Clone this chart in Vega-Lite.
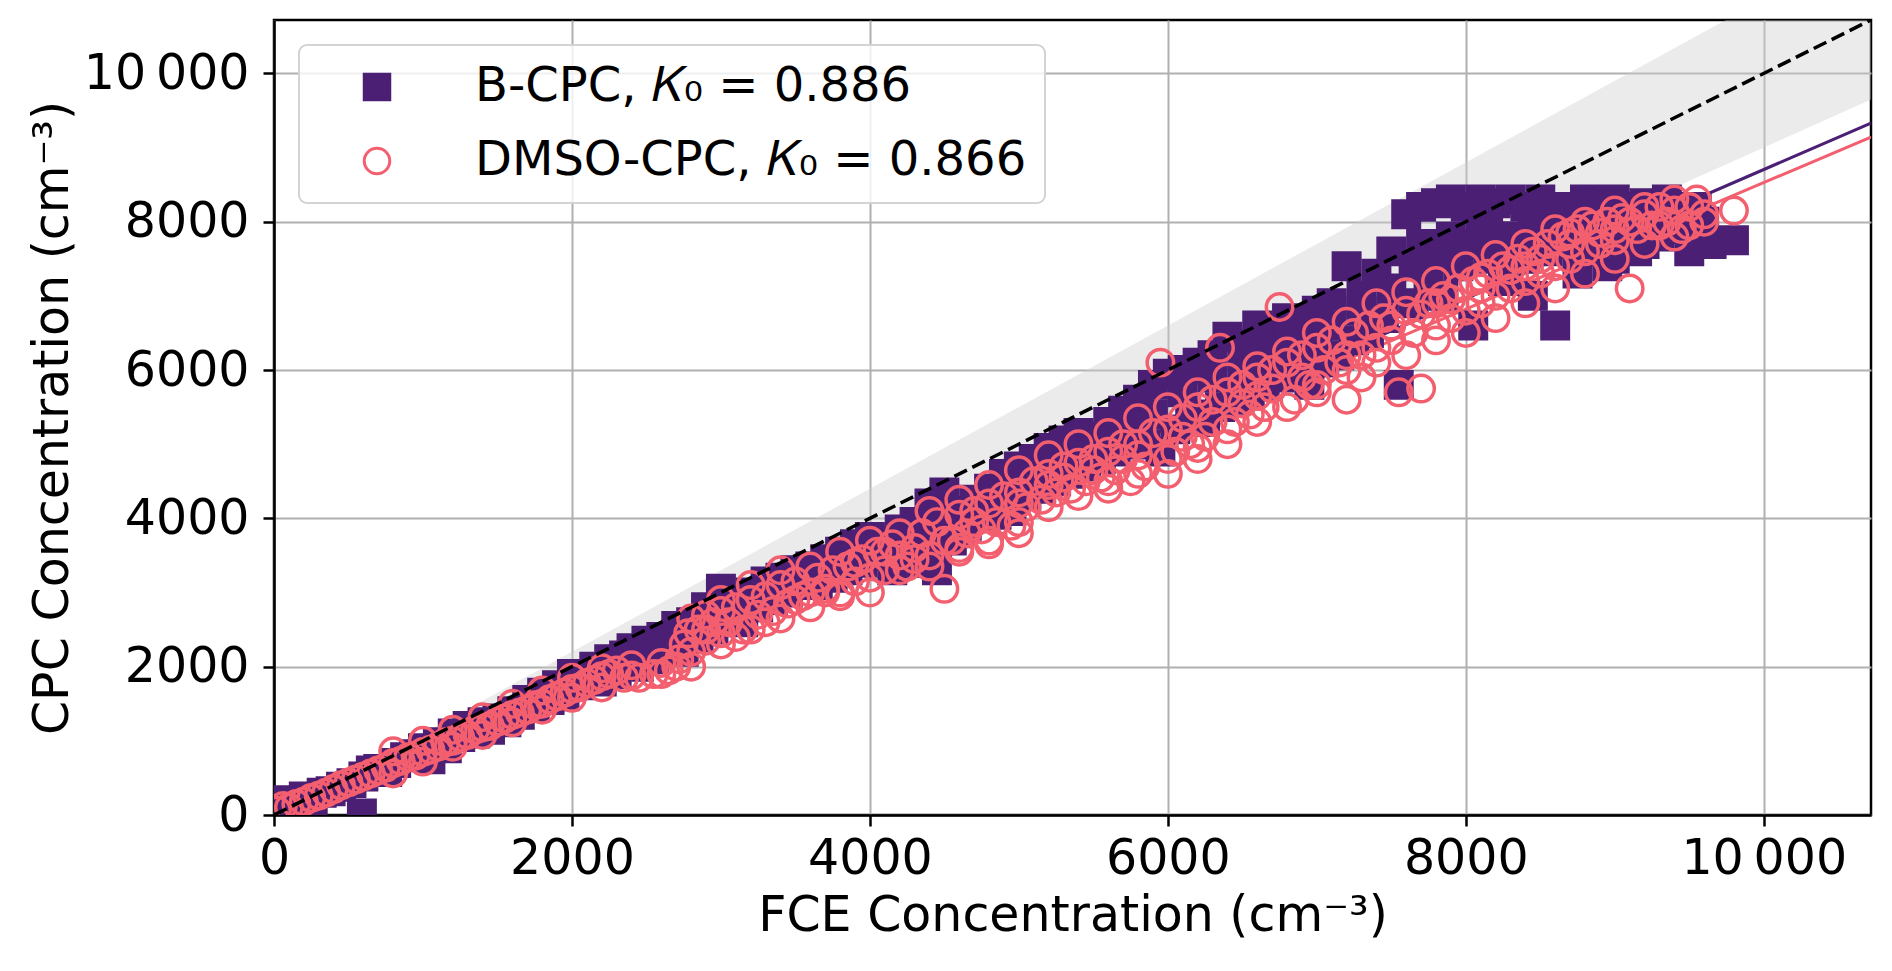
{
  "$schema": "https://vega.github.io/schema/vega-lite/v6.json",
  "description": "CPC vs FCE concentration, B-CPC and DMSO-CPC",
  "width": 1597,
  "height": 795,
  "autosize": {"type": "none"},
  "padding": {"left": 274, "top": 20, "right": 21, "bottom": 156},
  "background": "white",
  "datasets": {
    "band": [
      {"x": 0, "y": 0, "y2": 0},
      {"x": 10720, "y": 9648, "y2": 11792}
    ],
    "ref": [
      {"x": 0, "y": 0},
      {"x": 10720, "y": 10720}
    ],
    "fitB": [
      {"x": 0, "y": 0},
      {"x": 10720, "y": 9330}
    ],
    "fitD": [
      {"x": 0, "y": 0},
      {"x": 10720, "y": 9141}
    ],
    "pts": [
      {"s":"B","x":30,"y":120},{"s":"B","x":80,"y":200},{"s":"B","x":150,"y":180},{"s":"B","x":200,"y":250},{"s":"B","x":260,"y":200},
      {"s":"B","x":320,"y":300},{"s":"B","x":380,"y":320},{"s":"B","x":450,"y":380},{"s":"B","x":520,"y":430},{"s":"B","x":590,"y":20},
      {"s":"B","x":600,"y":520},{"s":"B","x":650,"y":600},{"s":"B","x":700,"y":620},{"s":"B","x":760,"y":580},{"s":"B","x":820,"y":700},
      {"s":"B","x":880,"y":780},{"s":"B","x":940,"y":820},{"s":"B","x":1000,"y":900},{"s":"B","x":1050,"y":750},{"s":"B","x":1100,"y":980},
      {"s":"B","x":1160,"y":900},{"s":"B","x":1200,"y":1100},{"s":"B","x":1250,"y":1050},{"s":"B","x":1300,"y":1200},{"s":"B","x":1350,"y":1100},
      {"s":"B","x":1400,"y":1250},{"s":"B","x":1450,"y":1150},{"s":"B","x":1500,"y":1300},{"s":"B","x":1560,"y":1250},{"s":"B","x":1600,"y":1400},
      {"s":"B","x":1650,"y":1350},{"s":"B","x":1700,"y":1550},{"s":"B","x":1750,"y":1450},{"s":"B","x":1800,"y":1650},{"s":"B","x":1850,"y":1550},
      {"s":"B","x":1900,"y":1750},{"s":"B","x":1950,"y":1600},{"s":"B","x":2000,"y":1900},{"s":"B","x":2050,"y":1750},{"s":"B","x":2100,"y":1850},
      {"s":"B","x":2150,"y":2000},{"s":"B","x":2200,"y":1800},{"s":"B","x":2250,"y":2100},{"s":"B","x":2300,"y":1900},{"s":"B","x":2350,"y":2150},
      {"s":"B","x":2400,"y":2250},{"s":"B","x":2450,"y":2000},{"s":"B","x":2500,"y":2350},{"s":"B","x":2550,"y":2100},{"s":"B","x":2600,"y":2400},
      {"s":"B","x":2650,"y":2300},{"s":"B","x":2700,"y":2550},{"s":"B","x":2750,"y":2200},{"s":"B","x":2800,"y":2600},{"s":"B","x":2850,"y":2400},
      {"s":"B","x":2900,"y":2800},{"s":"B","x":2950,"y":2500},{"s":"B","x":3000,"y":3050},{"s":"B","x":3050,"y":2700},{"s":"B","x":3100,"y":2900},
      {"s":"B","x":3150,"y":2600},{"s":"B","x":3200,"y":3000},{"s":"B","x":3250,"y":2800},{"s":"B","x":3300,"y":3150},{"s":"B","x":3350,"y":2900},
      {"s":"B","x":3400,"y":3200},{"s":"B","x":3450,"y":3000},{"s":"B","x":3500,"y":3300},{"s":"B","x":3550,"y":3100},{"s":"B","x":3600,"y":3350},
      {"s":"B","x":3650,"y":3100},{"s":"B","x":3700,"y":3450},{"s":"B","x":3750,"y":3200},{"s":"B","x":3800,"y":3550},{"s":"B","x":3850,"y":3300},
      {"s":"B","x":3900,"y":3650},{"s":"B","x":3950,"y":3400},{"s":"B","x":4000,"y":3750},{"s":"B","x":4050,"y":3500},{"s":"B","x":4100,"y":3700},
      {"s":"B","x":4150,"y":3300},{"s":"B","x":4200,"y":3850},{"s":"B","x":4250,"y":3500},{"s":"B","x":4300,"y":3950},{"s":"B","x":4350,"y":3400},
      {"s":"B","x":4400,"y":4200},{"s":"B","x":4450,"y":3300},{"s":"B","x":4500,"y":4350},{"s":"B","x":4550,"y":3700},{"s":"B","x":4600,"y":4100},
      {"s":"B","x":4650,"y":3900},{"s":"B","x":4700,"y":4250},{"s":"B","x":4750,"y":4000},{"s":"B","x":4800,"y":4400},{"s":"B","x":4850,"y":4050},
      {"s":"B","x":4900,"y":4600},{"s":"B","x":4950,"y":4100},{"s":"B","x":5000,"y":4700},{"s":"B","x":5050,"y":4300},{"s":"B","x":5100,"y":4800},
      {"s":"B","x":5150,"y":4400},{"s":"B","x":5200,"y":4950},{"s":"B","x":5250,"y":4500},{"s":"B","x":5300,"y":5050},{"s":"B","x":5350,"y":4600},
      {"s":"B","x":5400,"y":5150},{"s":"B","x":5450,"y":4700},{"s":"B","x":5500,"y":5100},{"s":"B","x":5550,"y":4800},{"s":"B","x":5600,"y":5300},
      {"s":"B","x":5650,"y":4900},{"s":"B","x":5700,"y":5450},{"s":"B","x":5750,"y":5000},{"s":"B","x":5800,"y":5600},{"s":"B","x":5850,"y":5000},
      {"s":"B","x":5900,"y":5800},{"s":"B","x":5950,"y":4900},{"s":"B","x":6000,"y":5950},{"s":"B","x":6050,"y":5200},{"s":"B","x":6100,"y":5700},
      {"s":"B","x":6150,"y":5400},{"s":"B","x":6200,"y":6100},{"s":"B","x":6250,"y":5300},{"s":"B","x":6300,"y":6200},{"s":"B","x":6350,"y":5500},
      {"s":"B","x":6400,"y":6450},{"s":"B","x":6450,"y":5600},{"s":"B","x":6500,"y":6350},{"s":"B","x":6550,"y":5700},{"s":"B","x":6600,"y":6250},
      {"s":"B","x":6650,"y":5800},{"s":"B","x":6700,"y":6500},{"s":"B","x":6750,"y":5900},{"s":"B","x":6800,"y":6400},{"s":"B","x":6850,"y":6000},
      {"s":"B","x":6900,"y":6300},{"s":"B","x":6950,"y":5800},{"s":"B","x":7000,"y":6800},{"s":"B","x":7050,"y":6100},{"s":"B","x":7100,"y":6600},
      {"s":"B","x":7150,"y":6200},{"s":"B","x":7200,"y":7400},{"s":"B","x":7250,"y":6400},{"s":"B","x":7300,"y":7000},{"s":"B","x":7350,"y":6500},
      {"s":"B","x":7400,"y":7300},{"s":"B","x":7450,"y":6700},{"s":"B","x":7500,"y":7600},{"s":"B","x":7550,"y":5800},{"s":"B","x":7600,"y":8100},
      {"s":"B","x":7650,"y":6900},{"s":"B","x":7700,"y":8200},{"s":"B","x":7750,"y":7200},{"s":"B","x":7800,"y":8250},{"s":"B","x":7850,"y":7000},
      {"s":"B","x":7900,"y":8300},{"s":"B","x":7950,"y":7400},{"s":"B","x":8000,"y":8200},{"s":"B","x":8050,"y":6600},{"s":"B","x":8100,"y":8300},
      {"s":"B","x":8150,"y":7500},{"s":"B","x":8200,"y":8250},{"s":"B","x":8250,"y":7200},{"s":"B","x":8300,"y":8300},{"s":"B","x":8350,"y":7800},
      {"s":"B","x":8400,"y":8200},{"s":"B","x":8450,"y":7000},{"s":"B","x":8500,"y":8300},{"s":"B","x":8550,"y":7600},{"s":"B","x":8600,"y":6600},
      {"s":"B","x":8650,"y":8200},{"s":"B","x":8700,"y":7900},{"s":"B","x":8750,"y":7300},{"s":"B","x":8800,"y":8300},{"s":"B","x":8850,"y":7700},
      {"s":"B","x":8900,"y":8250},{"s":"B","x":8950,"y":7400},{"s":"B","x":9000,"y":8300},{"s":"B","x":9050,"y":7800},{"s":"B","x":9100,"y":8200},
      {"s":"B","x":9150,"y":7600},{"s":"B","x":9200,"y":8250},{"s":"B","x":9250,"y":8000},{"s":"B","x":9300,"y":7800},{"s":"B","x":9350,"y":8300},
      {"s":"B","x":9400,"y":7900},{"s":"B","x":9450,"y":8100},{"s":"B","x":9500,"y":7600},{"s":"B","x":9550,"y":8200},{"s":"B","x":9600,"y":8000},
      {"s":"B","x":9650,"y":7700},{"s":"B","x":9800,"y":7750},
      {"s":"B","x":7700,"y":7700},{"s":"B","x":7900,"y":7800},{"s":"B","x":8100,"y":7900},{"s":"B","x":8300,"y":7600},{"s":"B","x":8500,"y":7900},
      {"s":"B","x":8700,"y":8100},{"s":"B","x":8900,"y":7900},{"s":"B","x":9100,"y":7900},{"s":"B","x":9300,"y":8100},{"s":"B","x":7800,"y":7500},
      {"s":"B","x":8000,"y":7700},{"s":"B","x":8200,"y":7800},{"s":"B","x":8400,"y":7500},{"s":"B","x":8600,"y":7700},{"s":"B","x":8800,"y":7600},
      {"s":"B","x":9000,"y":7500},{"s":"B","x":9200,"y":7700},{"s":"B","x":9400,"y":8200},{"s":"B","x":9500,"y":8000},{"s":"B","x":7650,"y":7400},
      {"s":"B","x":8150,"y":8100},{"s":"B","x":8450,"y":8100},
      {"s":"B","x":6100,"y":6000},{"s":"B","x":6300,"y":5900},{"s":"B","x":6500,"y":6000},{"s":"B","x":6700,"y":6200},{"s":"B","x":6900,"y":6600},
      {"s":"B","x":7100,"y":6900},{"s":"B","x":7300,"y":6800},{"s":"B","x":7500,"y":7100},{"s":"B","x":6800,"y":6700},{"s":"B","x":7000,"y":6500},
      {"s":"B","x":6600,"y":6600},
      {"s":"B","x":5100,"y":4600},{"s":"B","x":5300,"y":4800},{"s":"B","x":5500,"y":4950},{"s":"B","x":5700,"y":5200},{"s":"B","x":5900,"y":5400},
      {"s":"B","x":5200,"y":4700},{"s":"B","x":5400,"y":4900},{"s":"B","x":5600,"y":5100},{"s":"B","x":5800,"y":5300},
      {"s":"B","x":4100,"y":3500},{"s":"B","x":4300,"y":3700},{"s":"B","x":4500,"y":3900},{"s":"B","x":4700,"y":4100},{"s":"B","x":4900,"y":4300},
      {"s":"B","x":4400,"y":3800},{"s":"B","x":4600,"y":3800},
      {"s":"B","x":2300,"y":2050},{"s":"B","x":2700,"y":2400},{"s":"B","x":3100,"y":2800},{"s":"B","x":3500,"y":3200},{"s":"B","x":3900,"y":3500},

      {"s":"D","x":20,"y":60},{"s":"D","x":60,"y":120},{"s":"D","x":100,"y":100},{"s":"D","x":150,"y":150},{"s":"D","x":200,"y":180},
      {"s":"D","x":250,"y":230},{"s":"D","x":300,"y":260},{"s":"D","x":350,"y":300},{"s":"D","x":400,"y":350},{"s":"D","x":450,"y":400},
      {"s":"D","x":500,"y":440},{"s":"D","x":550,"y":480},{"s":"D","x":600,"y":520},{"s":"D","x":650,"y":560},{"s":"D","x":700,"y":600},
      {"s":"D","x":750,"y":640},{"s":"D","x":800,"y":700},{"s":"D","x":850,"y":730},{"s":"D","x":900,"y":780},{"s":"D","x":950,"y":800},
      {"s":"D","x":1000,"y":850},{"s":"D","x":1050,"y":880},{"s":"D","x":1100,"y":920},{"s":"D","x":1150,"y":980},{"s":"D","x":1200,"y":1000},
      {"s":"D","x":1250,"y":1050},{"s":"D","x":1300,"y":1080},{"s":"D","x":1350,"y":1150},{"s":"D","x":1400,"y":1180},{"s":"D","x":1450,"y":1200},
      {"s":"D","x":1500,"y":1260},{"s":"D","x":1550,"y":1300},{"s":"D","x":1600,"y":1350},{"s":"D","x":1650,"y":1380},{"s":"D","x":1700,"y":1420},
      {"s":"D","x":1750,"y":1480},{"s":"D","x":1800,"y":1500},{"s":"D","x":1850,"y":1560},{"s":"D","x":1900,"y":1600},{"s":"D","x":1950,"y":1650},
      {"s":"D","x":2000,"y":1700},{"s":"D","x":2050,"y":1720},{"s":"D","x":2100,"y":1780},{"s":"D","x":2150,"y":1820},{"s":"D","x":2200,"y":1870},
      {"s":"D","x":2250,"y":1900},{"s":"D","x":2300,"y":1950},{"s":"D","x":2350,"y":1850},{"s":"D","x":2450,"y":1850},{"s":"D","x":2550,"y":1900},
      {"s":"D","x":2650,"y":1950},{"s":"D","x":2700,"y":2000},{"s":"D","x":2720,"y":2100},{"s":"D","x":2750,"y":2300},{"s":"D","x":2780,"y":2450},
      {"s":"D","x":2800,"y":2200},{"s":"D","x":2850,"y":2500},{"s":"D","x":2900,"y":2350},{"s":"D","x":2950,"y":2600},{"s":"D","x":3000,"y":2450},
      {"s":"D","x":3000,"y":2750},{"s":"D","x":3050,"y":2600},{"s":"D","x":3100,"y":2800},{"s":"D","x":3150,"y":2500},{"s":"D","x":3200,"y":2900},
      {"s":"D","x":3250,"y":2700},{"s":"D","x":3300,"y":2950},{"s":"D","x":3350,"y":2750},{"s":"D","x":3400,"y":3100},{"s":"D","x":3450,"y":2850},
      {"s":"D","x":3500,"y":3150},{"s":"D","x":3550,"y":2950},{"s":"D","x":3600,"y":3000},{"s":"D","x":3650,"y":3200},{"s":"D","x":3700,"y":3050},
      {"s":"D","x":3750,"y":3300},{"s":"D","x":3800,"y":3000},{"s":"D","x":3850,"y":3350},{"s":"D","x":3900,"y":3150},{"s":"D","x":3950,"y":3450},
      {"s":"D","x":4000,"y":3200},{"s":"D","x":4050,"y":3550},{"s":"D","x":4100,"y":3300},{"s":"D","x":4150,"y":3650},{"s":"D","x":4200,"y":3500},
      {"s":"D","x":4250,"y":3350},{"s":"D","x":4300,"y":3600},{"s":"D","x":4350,"y":3800},{"s":"D","x":4400,"y":3500},{"s":"D","x":4450,"y":3950},
      {"s":"D","x":4500,"y":3050},{"s":"D","x":4550,"y":3700},{"s":"D","x":4600,"y":4050},{"s":"D","x":4650,"y":3800},{"s":"D","x":4700,"y":4100},
      {"s":"D","x":4750,"y":3850},{"s":"D","x":4800,"y":4200},{"s":"D","x":4850,"y":3950},{"s":"D","x":4900,"y":4300},{"s":"D","x":4950,"y":3900},
      {"s":"D","x":5000,"y":4350},{"s":"D","x":5050,"y":4150},{"s":"D","x":5100,"y":4500},{"s":"D","x":5150,"y":4250},{"s":"D","x":5200,"y":4600},
      {"s":"D","x":5250,"y":4350},{"s":"D","x":5300,"y":4700},{"s":"D","x":5350,"y":4400},{"s":"D","x":5400,"y":4750},{"s":"D","x":5450,"y":4500},
      {"s":"D","x":5500,"y":4800},{"s":"D","x":5550,"y":4550},{"s":"D","x":5600,"y":4900},{"s":"D","x":5650,"y":4650},{"s":"D","x":5700,"y":5000},
      {"s":"D","x":5750,"y":4500},{"s":"D","x":5800,"y":5000},{"s":"D","x":5850,"y":4700},{"s":"D","x":5900,"y":5150},{"s":"D","x":5950,"y":6100},
      {"s":"D","x":6000,"y":5200},{"s":"D","x":6050,"y":4900},{"s":"D","x":6100,"y":5350},{"s":"D","x":6150,"y":5000},{"s":"D","x":6200,"y":5500},
      {"s":"D","x":6250,"y":5100},{"s":"D","x":6300,"y":5600},{"s":"D","x":6350,"y":6300},{"s":"D","x":6400,"y":5700},{"s":"D","x":6450,"y":5300},
      {"s":"D","x":6500,"y":5800},{"s":"D","x":6550,"y":5400},{"s":"D","x":6600,"y":5900},{"s":"D","x":6650,"y":5500},{"s":"D","x":6700,"y":6000},
      {"s":"D","x":6750,"y":6850},{"s":"D","x":6800,"y":6100},{"s":"D","x":6850,"y":5600},{"s":"D","x":6900,"y":6200},{"s":"D","x":6950,"y":5800},
      {"s":"D","x":7000,"y":6300},{"s":"D","x":7050,"y":6000},{"s":"D","x":7100,"y":6400},{"s":"D","x":7150,"y":6100},{"s":"D","x":7200,"y":5600},
      {"s":"D","x":7250,"y":6500},{"s":"D","x":7300,"y":6200},{"s":"D","x":7350,"y":6600},{"s":"D","x":7400,"y":6300},{"s":"D","x":7450,"y":6700},
      {"s":"D","x":7500,"y":6400},{"s":"D","x":7550,"y":5700},{"s":"D","x":7600,"y":6800},{"s":"D","x":7650,"y":6500},{"s":"D","x":7700,"y":5750},
      {"s":"D","x":7750,"y":6900},{"s":"D","x":7800,"y":6600},{"s":"D","x":7850,"y":7000},{"s":"D","x":7900,"y":6700},{"s":"D","x":7950,"y":7100},
      {"s":"D","x":8000,"y":6800},{"s":"D","x":8050,"y":7200},{"s":"D","x":8100,"y":6900},{"s":"D","x":8150,"y":7300},{"s":"D","x":8200,"y":7000},
      {"s":"D","x":8250,"y":7400},{"s":"D","x":8300,"y":7100},{"s":"D","x":8350,"y":7500},{"s":"D","x":8400,"y":7200},{"s":"D","x":8450,"y":7600},
      {"s":"D","x":8500,"y":7300},{"s":"D","x":8550,"y":7700},{"s":"D","x":8600,"y":7400},{"s":"D","x":8650,"y":7800},{"s":"D","x":8700,"y":7500},
      {"s":"D","x":8750,"y":7900},{"s":"D","x":8800,"y":7600},{"s":"D","x":8850,"y":7950},{"s":"D","x":8900,"y":7700},{"s":"D","x":8950,"y":8000},
      {"s":"D","x":9000,"y":7750},{"s":"D","x":9050,"y":8050},{"s":"D","x":9100,"y":7100},{"s":"D","x":9150,"y":7900},{"s":"D","x":9200,"y":8100},
      {"s":"D","x":9250,"y":7950},{"s":"D","x":9300,"y":8200},{"s":"D","x":9350,"y":8000},{"s":"D","x":9400,"y":8150},{"s":"D","x":9450,"y":7900},
      {"s":"D","x":9500,"y":8200},{"s":"D","x":9550,"y":8300},{"s":"D","x":9600,"y":8000},{"s":"D","x":9800,"y":8150},
      {"s":"D","x":3900,"y":3400},{"s":"D","x":4100,"y":3550},{"s":"D","x":4300,"y":3450},{"s":"D","x":4700,"y":3950},{"s":"D","x":5000,"y":4200},
      {"s":"D","x":5200,"y":4450},{"s":"D","x":5500,"y":4650},{"s":"D","x":5800,"y":4850},{"s":"D","x":6100,"y":5100},{"s":"D","x":6300,"y":5300},
      {"s":"D","x":6600,"y":5650},{"s":"D","x":6900,"y":5900},{"s":"D","x":7200,"y":6200},{"s":"D","x":7500,"y":6600},{"s":"D","x":7800,"y":6900},
      {"s":"D","x":8100,"y":7100},{"s":"D","x":8400,"y":7400},{"s":"D","x":8700,"y":7700},{"s":"D","x":9000,"y":7900},{"s":"D","x":9300,"y":7950},
      {"s":"D","x":6000,"y":4600},{"s":"D","x":5600,"y":4400},{"s":"D","x":6200,"y":4800},{"s":"D","x":6400,"y":5000},{"s":"D","x":5000,"y":3800},
      {"s":"D","x":4600,"y":3600},{"s":"D","x":7000,"y":5700},{"s":"D","x":7300,"y":5900},{"s":"D","x":4800,"y":3700},{"s":"D","x":3300,"y":2600},
      {"s":"D","x":3700,"y":3000},{"s":"D","x":3100,"y":2400},
      {"s":"D","x":800,"y":560},{"s":"D","x":800,"y":860},{"s":"D","x":1000,"y":720},{"s":"D","x":1000,"y":1000},{"s":"D","x":1200,"y":920},
      {"s":"D","x":1200,"y":1150},{"s":"D","x":1400,"y":1080},{"s":"D","x":1400,"y":1320},{"s":"D","x":1600,"y":1250},{"s":"D","x":1600,"y":1500},
      {"s":"D","x":1800,"y":1420},{"s":"D","x":1800,"y":1680},{"s":"D","x":2000,"y":1580},{"s":"D","x":2000,"y":1850},{"s":"D","x":2200,"y":1720},
      {"s":"D","x":2200,"y":1980},{"s":"D","x":2400,"y":1880},{"s":"D","x":2400,"y":2020},{"s":"D","x":2600,"y":1900},{"s":"D","x":2600,"y":2050},
      {"s":"D","x":2800,"y":2000},{"s":"D","x":2800,"y":2650},{"s":"D","x":2900,"y":2700},{"s":"D","x":3000,"y":2300},{"s":"D","x":3000,"y":2900},
      {"s":"D","x":3200,"y":2500},{"s":"D","x":3200,"y":3100},{"s":"D","x":3400,"y":2650},{"s":"D","x":3400,"y":3300},{"s":"D","x":3600,"y":2800},
      {"s":"D","x":3600,"y":3350},{"s":"D","x":3800,"y":2950},{"s":"D","x":3800,"y":3550},{"s":"D","x":4000,"y":3000},{"s":"D","x":4000,"y":3700},
      {"s":"D","x":4200,"y":3300},{"s":"D","x":4200,"y":3800},{"s":"D","x":4400,"y":3350},{"s":"D","x":4400,"y":4100},{"s":"D","x":4600,"y":3550},
      {"s":"D","x":4600,"y":4250},{"s":"D","x":4800,"y":3650},{"s":"D","x":4800,"y":4450},{"s":"D","x":5000,"y":3950},{"s":"D","x":5000,"y":4650},
      {"s":"D","x":5200,"y":4150},{"s":"D","x":5200,"y":4850},{"s":"D","x":5400,"y":4300},{"s":"D","x":5400,"y":5000},{"s":"D","x":5600,"y":4500},
      {"s":"D","x":5600,"y":5150},{"s":"D","x":5800,"y":4600},{"s":"D","x":5800,"y":5350},{"s":"D","x":6000,"y":4800},{"s":"D","x":6000,"y":5500},
      {"s":"D","x":6200,"y":4950},{"s":"D","x":6200,"y":5700},{"s":"D","x":6400,"y":5200},{"s":"D","x":6400,"y":5900},{"s":"D","x":6600,"y":5300},
      {"s":"D","x":6600,"y":6050},{"s":"D","x":6800,"y":5500},{"s":"D","x":6800,"y":6250},{"s":"D","x":7000,"y":5800},{"s":"D","x":7000,"y":6500},
      {"s":"D","x":7200,"y":6000},{"s":"D","x":7200,"y":6650},{"s":"D","x":7400,"y":6100},{"s":"D","x":7400,"y":6900},{"s":"D","x":7600,"y":6200},
      {"s":"D","x":7600,"y":7050},{"s":"D","x":7800,"y":6400},{"s":"D","x":7800,"y":7200},{"s":"D","x":8000,"y":6500},{"s":"D","x":8000,"y":7400},
      {"s":"D","x":8200,"y":6700},{"s":"D","x":8200,"y":7550},{"s":"D","x":8400,"y":6900},{"s":"D","x":8400,"y":7700},{"s":"D","x":8600,"y":7100},
      {"s":"D","x":8600,"y":7900},{"s":"D","x":8800,"y":7300},{"s":"D","x":8800,"y":8000},{"s":"D","x":9000,"y":7500},{"s":"D","x":9000,"y":8150},
      {"s":"D","x":9200,"y":7700},{"s":"D","x":9200,"y":8200},{"s":"D","x":9400,"y":7800},{"s":"D","x":9400,"y":8300},{"s":"D","x":9500,"y":7950},
      {"s":"D","x":9600,"y":8100},
      {"s":"D","x":7700,"y":6750},{"s":"D","x":7900,"y":6950},{"s":"D","x":8100,"y":7250},{"s":"D","x":8300,"y":7350},{"s":"D","x":8500,"y":7500},
      {"s":"D","x":8700,"y":7850},{"s":"D","x":8900,"y":7850},{"s":"D","x":9100,"y":8000},{"s":"D","x":6500,"y":5550},{"s":"D","x":6700,"y":5750},
      {"s":"D","x":5300,"y":4550},{"s":"D","x":5700,"y":4800},{"s":"D","x":4500,"y":3700},{"s":"D","x":3500,"y":2900},{"s":"D","x":2900,"y":2500}
    ]
  },
  "layer": [
    {
      "data": {"name": "band"},
      "mark": {"type": "area", "color": "#cccccc", "opacity": 0.4, "clip": true},
      "encoding": {
        "x": {
          "field": "x", "type": "quantitative",
          "scale": {"domain": [0, 10720], "nice": false, "zero": false},
          "axis": {
            "title": "FCE Concentration (cm⁻³)",
            "values": [0, 2000, 4000, 6000, 8000, 10000],
            "labelExpr": "datum.value == 10000 ? '10\u2009000' : format(datum.value, 'd')",
            "labelPadding": 8,
            "titlePadding": 8
          }
        },
        "y": {
          "field": "y", "type": "quantitative",
          "scale": {"domain": [0, 10720], "nice": false, "zero": false},
          "axis": {
            "title": "CPC Concentration (cm⁻³)",
            "values": [0, 2000, 4000, 6000, 8000, 10000],
            "labelExpr": "datum.value == 10000 ? '10\u2009000' : format(datum.value, 'd')",
            "labelPadding": 14,
            "titlePadding": 6
          }
        },
        "y2": {"field": "y2"}
      }
    },
    {
      "data": {"name": "fitB"},
      "mark": {"type": "line", "color": "#4b1f74", "strokeWidth": 3, "clip": true},
      "encoding": {
        "x": {"field": "x", "type": "quantitative"},
        "y": {"field": "y", "type": "quantitative"}
      }
    },
    {
      "data": {"name": "fitD"},
      "mark": {"type": "line", "color": "#f35f6e", "strokeWidth": 3, "clip": true},
      "encoding": {
        "x": {"field": "x", "type": "quantitative"},
        "y": {"field": "y", "type": "quantitative"}
      }
    },
    {
      "data": {"name": "pts"},
      "mark": {"type": "point", "size": 700, "strokeWidth": 3.5, "opacity": 1, "clip": true},
      "encoding": {
        "x": {"field": "x", "type": "quantitative"},
        "y": {"field": "y", "type": "quantitative"},
        "shape": {
          "field": "s", "type": "nominal",
          "scale": {"domain": ["B", "D"], "range": ["square", "circle"]},
          "legend": {"title": null, "labelExpr": "datum.value == 'B' ? 'B-CPC, 𝐾₀ = 0.886' : 'DMSO-CPC, 𝐾₀ = 0.866'"}
        },
        "fill": {
          "field": "s", "type": "nominal",
          "scale": {"domain": ["B", "D"], "range": ["#4b1f74", "transparent"]},
          "legend": {"title": null, "labelExpr": "datum.value == 'B' ? 'B-CPC, 𝐾₀ = 0.886' : 'DMSO-CPC, 𝐾₀ = 0.866'"}
        },
        "stroke": {
          "field": "s", "type": "nominal",
          "scale": {"domain": ["B", "D"], "range": ["#4b1f74", "#f35f6e"]},
          "legend": {"title": null, "labelExpr": "datum.value == 'B' ? 'B-CPC, 𝐾₀ = 0.886' : 'DMSO-CPC, 𝐾₀ = 0.866'"}
        }
      }
    },
    {
      "data": {"name": "ref"},
      "mark": {"type": "line", "color": "black", "strokeWidth": 3.5, "strokeDash": [14, 6], "clip": true},
      "encoding": {
        "x": {"field": "x", "type": "quantitative"},
        "y": {"field": "y", "type": "quantitative"}
      }
    }
  ],
  "config": {
    "font": "DejaVu Sans",
    "view": {"stroke": "black", "strokeWidth": 2.5},
    "axis": {
      "grid": true,
      "gridColor": "#b0b0b0",
      "gridWidth": 2,
      "domainColor": "black",
      "domainWidth": 2.5,
      "tickColor": "black",
      "tickWidth": 2.5,
      "tickSize": 11,
      "labelFont": "DejaVu Sans",
      "labelFontSize": 49,
      "labelColor": "black",
      "labelFlush": false,
      "labelOverlap": false,
      "titleFont": "DejaVu Sans",
      "titleFontSize": 49,
      "titleFontWeight": "normal",
      "titleColor": "black"
    },
    "legend": {
      "orient": "top-left",
      "offset": 25,
      "fillColor": "rgba(255,255,255,0.8)",
      "strokeColor": "#d3d3d3",
      "strokeWidth": 2,
      "cornerRadius": 8,
      "padding": 18,
      "labelFont": "DejaVu Sans",
      "labelFontSize": 48,
      "labelColor": "black",
      "labelLimit": 0,
      "symbolSize": 650,
      "symbolStrokeWidth": 3,
      "rowPadding": 26,
      "symbolOffset": 36,
      "labelOffset": 74
    }
  }
}
